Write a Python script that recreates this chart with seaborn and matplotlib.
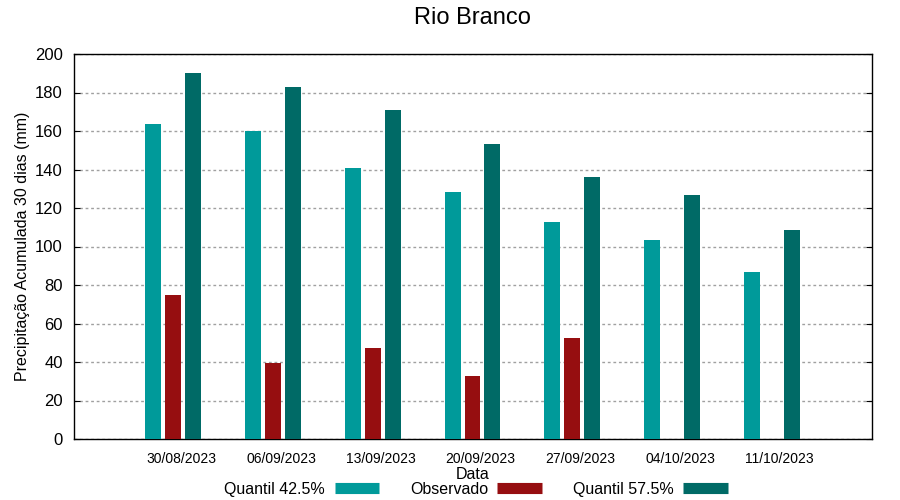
import numpy as np
import pandas as pd
import seaborn as sns
import matplotlib
matplotlib.use('Agg')
from matplotlib import pyplot as plt
from matplotlib.lines import Line2D
import matplotlib.transforms as mtransforms

datas = ['30/08/2023', '06/09/2023', '13/09/2023', '20/09/2023',
         '27/09/2023', '04/10/2023', '11/10/2023']
quantil_425 = [163.6, 160.0, 140.8, 128.3, 112.7, 103.4, 86.8]
observado = [74.8, 39.5, 47.3, 32.7, 52.5, np.nan, np.nan]
quantil_575 = [190.1, 182.9, 170.9, 153.2, 136.1, 126.8, 108.6]

series = ['Quantil 42.5%', 'Observado', 'Quantil 57.5%']
cores = ['#009a9a', '#960e10', '#006a66']

df = pd.DataFrame({
    'Data': datas * 3,
    'valor': quantil_425 + observado + quantil_575,
    'serie': [s for s in series for _ in datas],
})

sns.set_style('white')
plt.rcParams['font.family'] = ['Liberation Sans', 'DejaVu Sans']
plt.rcParams['text.color'] = 'black'
plt.rcParams['axes.labelcolor'] = 'black'
plt.rcParams['xtick.color'] = 'black'
plt.rcParams['ytick.color'] = 'black'

fig = plt.figure(figsize=(9, 5), dpi=100)
ax = fig.add_axes([0.0822, 0.122, 0.8867, 0.77])

sns.barplot(data=df, x='Data', y='valor', hue='serie', hue_order=series,
            palette=cores, width=0.6, gap=0.2, saturation=1, ax=ax,
            legend=False, zorder=3, linewidth=0)

ax.set_xlim(-0.995, 7.005)
ax.set_ylim(0, 200)
ax.set_yticks(range(0, 201, 20))
ax.yaxis.grid(True, color='#a0a0a0', linestyle=(0, (2, 2)), linewidth=1, zorder=0)
ax.xaxis.grid(False)
ax.set_axisbelow(True)
for s in ax.spines.values():
    s.set_color('black')
    s.set_linewidth(1)

ax.tick_params(axis='y', direction='in', length=4, labelsize=12, pad=8,
               right=True, left=True, color='black')
ax.tick_params(axis='x', length=0, labelsize=10, pad=9.5)
desloc = mtransforms.ScaledTranslation(8 / 100, 0, fig.dpi_scale_trans)
for lbl in ax.get_xticklabels():
    lbl.set_transform(lbl.get_transform() + desloc)

ax.set_ylabel('Precipitação Acumulada 30 dias (mm)', fontsize=11.5)
ax.yaxis.set_label_coords(-0.055, 0.5)
ax.set_xlabel('Data', fontsize=11.5)
ax.xaxis.set_label_coords(0.5, -0.074)

fig.suptitle('Rio Branco', fontsize=17, x=472 / 900, y=1 - 18 / 500, va='center')

handles = [Line2D([0], [0], color=c, linewidth=8, solid_capstyle='butt') for c in cores]
fig.legend(handles, series, loc='center', bbox_to_anchor=(476 / 900, 1 - 489.5 / 500),
           ncol=3, frameon=False, markerfirst=False, handlelength=2.8,
           handletextpad=0.6, columnspacing=1.9, borderaxespad=0,
           prop={'size': 11.5})

fig.savefig('out.png', dpi=100)
